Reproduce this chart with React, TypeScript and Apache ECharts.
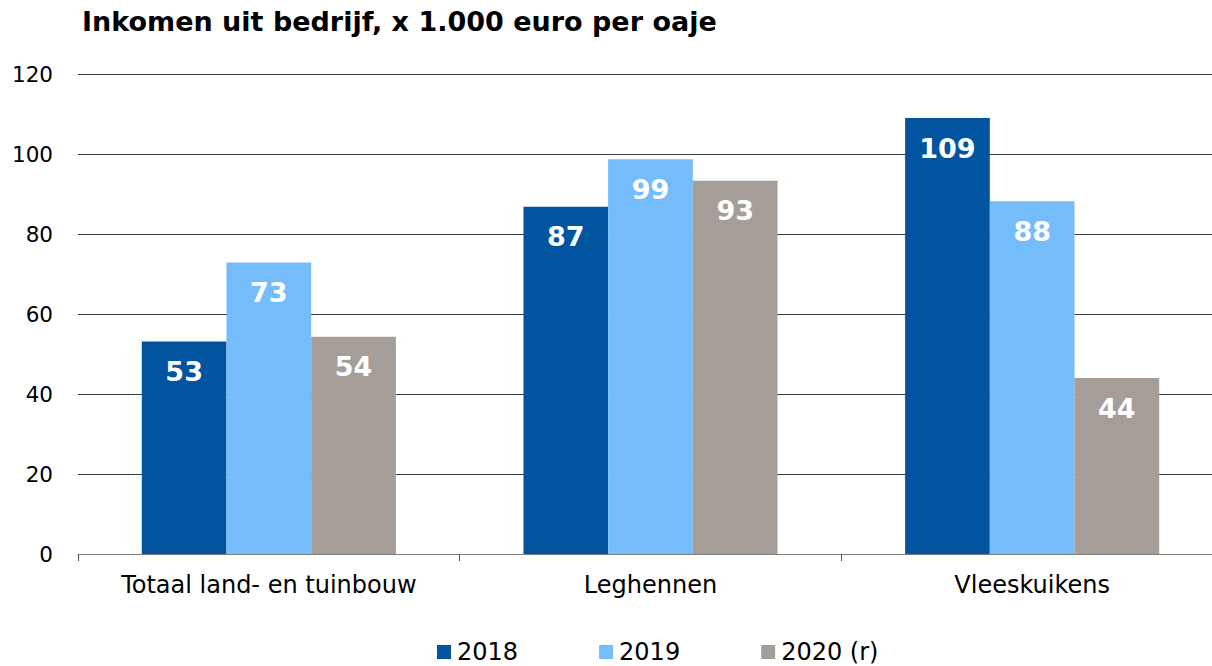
import React, { useEffect, useRef } from "react";
import * as echarts from "echarts";

const categories = ["Totaal land- en tuinbouw", "Leghennen", "Vleeskuikens"];
const values2018 = [53.1, 86.8, 109.0];
const values2019 = [72.9, 98.7, 88.2];
const values2020 = [54.3, 93.3, 44.0];
const seriesNames = ["2018", "2019", "2020 (r)"];
const colors = ["#0054a0", "#75bcfb", "#a59d97"];
const yTicks = { min: 0, max: 120, interval: 20 };

const FONT = "'DejaVu Sans', Verdana, sans-serif";

export default function App() {
  const ref = useRef<HTMLDivElement>(null);
  useEffect(() => {
    document.body.style.margin = "0";
    const chart = echarts.init(ref.current!, null, { renderer: "svg" });
    const mk = (name: string, data: number[], color: string) => ({
      name,
      type: "bar",
      data,
      barWidth: 84.7,
      barGap: "0%",
      itemStyle: { color },
      label: {
        show: true,
        position: "insideTop",
        distance: 16.5,
        color: "#ffffff",
        fontFamily: FONT,
        fontWeight: "bold",
        fontSize: 27,
        formatter: (p: any) => Math.round(p.value).toString(),
      },
    });
    chart.setOption({
      animation: false,
      title: {
        text: "Inkomen uit bedrijf, x 1.000 euro per oaje",
        left: 77,
        top: 3,
        textStyle: { fontFamily: FONT, fontWeight: "bold", fontSize: 27, color: "#000" },
      },
      grid: { left: 78, right: 0, top: 74, bottom: 112, containLabel: false },
      legend: {
        left: 437,
        top: 640,
        padding: 0,
        itemWidth: 14,
        itemHeight: 14,
        itemGap: 81,
        icon: "rect",
        textStyle: {
          fontFamily: FONT,
          fontSize: 24,
          lineHeight: 22,
          color: "#000",
          padding: [0, 0, 0, 1],
        },
        data: seriesNames,
      },
      xAxis: {
        type: "category",
        data: categories,
        axisLine: { lineStyle: { color: "#808080", width: 1 } },
        axisTick: { show: true, interval: 0, length: 7, lineStyle: { color: "#555" } },
        axisLabel: { interval: 0, fontFamily: FONT, fontSize: 24, color: "#000", margin: 18.5 },
      },
      yAxis: {
        type: "value",
        min: yTicks.min,
        max: yTicks.max,
        interval: yTicks.interval,
        axisLine: { show: false },
        axisTick: { show: false },
        splitLine: { lineStyle: { color: "#3a3a3a", width: 1 } },
        axisLabel: { fontFamily: FONT, fontSize: 21.5, color: "#000", margin: 25 },
      },
      series: [
        mk(seriesNames[0], values2018, colors[0]),
        mk(seriesNames[1], values2019, colors[1]),
        mk(seriesNames[2], values2020, colors[2]),
      ],
    });
    return () => chart.dispose();
  }, []);
  return (
    <div style={{ width: 1212, height: 666, overflow: "hidden", position: "relative" }}>
      <div ref={ref} style={{ width: 1223, height: 666 }} />
    </div>
  );
}
